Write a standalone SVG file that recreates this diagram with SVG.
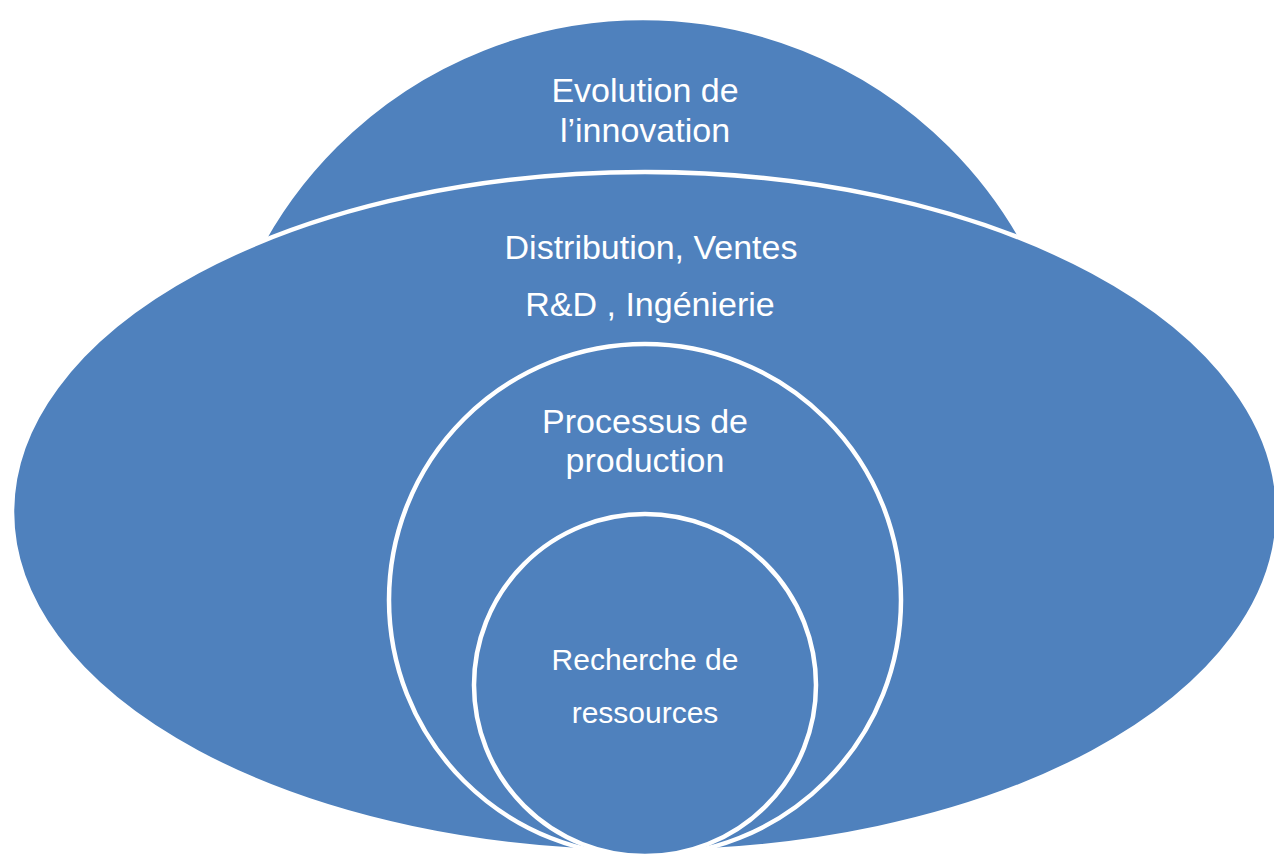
<svg xmlns="http://www.w3.org/2000/svg" width="1274" height="855" viewBox="0 0 1274 855">
<style>
.shape{fill:#4F81BD;stroke:#FFFFFF;stroke-width:4.5}
.lbl{fill:#FFFFFF;font-family:"Liberation Sans","Open Sans",sans-serif;text-anchor:middle}
.big{font-size:34px}
.small{font-size:30px}
</style>
<defs>
<clipPath id="topclip"><rect x="0" y="0" width="1274" height="520"/></clipPath>
</defs>
<rect x="0" y="0" width="1274" height="855" fill="#FFFFFF"/>
<g id="node-innovation">
<circle class="shape" cx="643" cy="453" r="435" clip-path="url(#topclip)"/>
<text class="lbl big" x="645" y="102">Evolution de</text>
<text class="lbl big" x="645" y="142">l’innovation</text>
</g>
<g id="node-distribution">
<ellipse class="shape" cx="645" cy="512" rx="633" ry="340"/>
<text class="lbl big" x="651" y="259">Distribution, Ventes</text>
<text class="lbl big" x="650" y="316">R&amp;D , Ingénierie</text>
</g>
<g id="node-production">
<circle class="shape" cx="645" cy="600" r="256"/>
<text class="lbl big" x="645" y="433">Processus de</text>
<text class="lbl big" x="645" y="472">production</text>
</g>
<g id="node-recherche">
<circle class="shape" cx="645" cy="685" r="171"/>
<text class="lbl small" x="645" y="670">Recherche de</text>
<text class="lbl small" x="645" y="723">ressources</text>
</g>
<g id="connectors"></g>
</svg>
